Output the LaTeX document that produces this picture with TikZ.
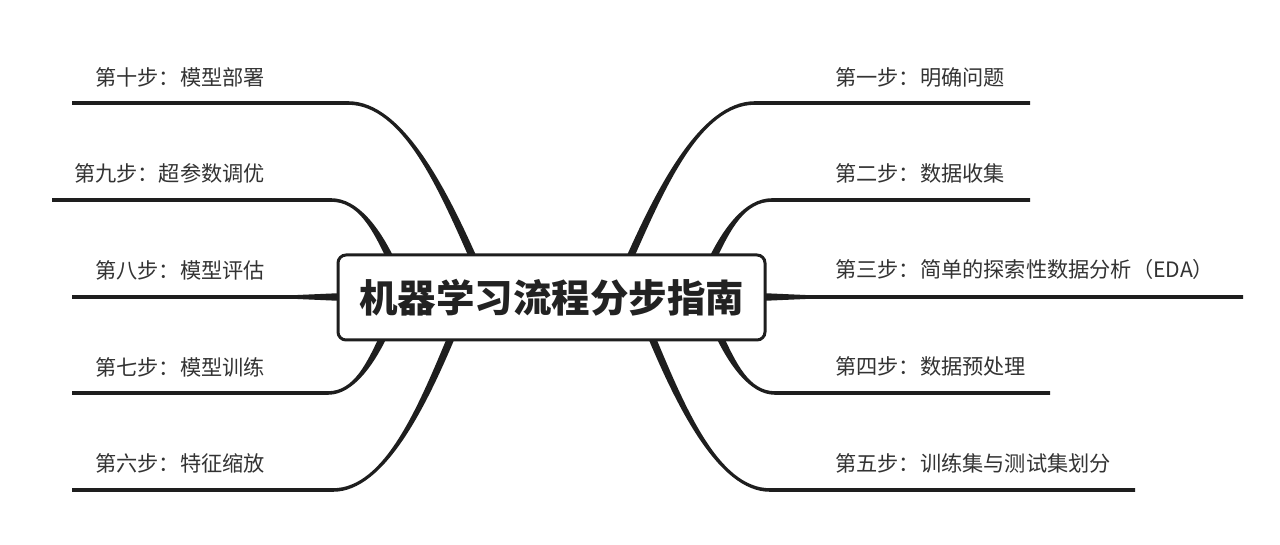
\documentclass[tikz,border=0pt]{standalone}
\usepackage{fontspec}
\setmainfont{Noto Sans CJK SC}
\usetikzlibrary{calc}
\definecolor{linec}{HTML}{1E1E1E}
\definecolor{textc}{HTML}{333333}
\definecolor{titlec}{HTML}{222222}
\tikzset{
  branch/.style={fill=linec},
  lblR/.style={anchor=west, inner sep=0pt, text=textc, font=\fontsize{21.2}{25}\selectfont},
  lblL/.style={anchor=east, inner sep=0pt, text=textc, font=\fontsize{21.2}{25}\selectfont},
  centerbox/.style={draw=linec, line width=3pt, fill=white, rounded corners=8pt,
    minimum width=427pt, minimum height=85pt, inner sep=0pt, text=titlec,
    font=\fontsize{38.5}{44}\selectfont\bfseries}
}
% #1 start, #2 ctrl1, #3 ctrl2, #4 bend, #5 end, #6 offset at start, #7 offset at bend
\newcommand\mmbranch[7]{%
  \fill[branch] ($(#1)+(#6)$) .. controls ($(#2)+(#6)$) and ($(#3)+(#7)$) .. ($(#4)+(#7)$)
    -- ($(#5)+(#7)$) -- ($(#5)-(#7)$) -- ($(#4)-(#7)$)
    .. controls ($(#3)-(#7)$) and ($(#2)-(#6)$) .. ($(#1)-(#6)$) -- cycle;}
\begin{document}
\begin{tikzpicture}[x=1pt,y=-1pt]
\useasboundingbox (0,0) rectangle (1280,545);
\fill[white] (0,0) rectangle (1280,545);
% coordinates
\coordinate (s1) at (628,262);  \coordinate (b1) at (755,103);  \coordinate (e1) at (1030,103);
\coordinate (s2) at (711,262);  \coordinate (b2) at (772,200);  \coordinate (e2) at (1030,200);
\coordinate (s3) at (760,297);  \coordinate (e3) at (1243,297);
\coordinate (s4) at (718,333);  \coordinate (b4) at (775,393);  \coordinate (e4) at (1050,393);
\coordinate (s5) at (650,333);  \coordinate (b5) at (770,490);  \coordinate (e5) at (1135,490);
\coordinate (s10) at (475,262); \coordinate (b10) at (348,103); \coordinate (e10) at (72,103);
\coordinate (s9) at (392,262);  \coordinate (b9) at (331,200);  \coordinate (e9) at (52,200);
\coordinate (s8) at (343,297);  \coordinate (e8) at (72,297);
\coordinate (s7) at (385,333);  \coordinate (b7) at (328,393);  \coordinate (e7) at (72,393);
\coordinate (s6) at (453,333);  \coordinate (b6) at (333,490);  \coordinate (e6) at (72,490);
% branches right
\mmbranch{s1}{660,190}{700,103}{b1}{e1}{-4,0}{0,-1.8}
\mmbranch{s2}{727,228}{745,200}{b2}{e2}{-4,0}{0,-1.8}
\mmbranch{s4}{732,363}{749,393}{b4}{e4}{-4,0}{0,1.8}
\mmbranch{s5}{680,405}{718,490}{b5}{e5}{-4,0}{0,1.8}
% branches left
\mmbranch{s10}{443,190}{403,103}{b10}{e10}{4,0}{0,-1.8}
\mmbranch{s9}{376,228}{358,200}{b9}{e9}{4,0}{0,-1.8}
\mmbranch{s7}{371,363}{354,393}{b7}{e7}{4,0}{0,1.8}
\mmbranch{s6}{423,405}{385,490}{b6}{e6}{4,0}{0,1.8}
% straight wedges
\fill[branch] ($(s3)+(0,-4)$) .. controls ($(s3)+(25,-2.2)$) .. ($(s3)+(50,-1.8)$)
  -- ($(e3)+(0,-1.8)$) -- ($(e3)+(0,1.8)$) -- ($(s3)+(50,1.8)$)
  .. controls ($(s3)+(25,2.2)$) .. ($(s3)+(0,4)$) -- cycle;
\fill[branch] ($(s8)+(0,-4)$) .. controls ($(s8)+(-25,-2.2)$) .. ($(s8)+(-50,-1.8)$)
  -- ($(e8)+(0,-1.8)$) -- ($(e8)+(0,1.8)$) -- ($(s8)+(-50,1.8)$)
  .. controls ($(s8)+(-25,2.2)$) .. ($(s8)+(0,4)$) -- cycle;
% center
\node[centerbox] (c) at (551.5,297.5) {机器学习流程分步指南};
% labels
\node[lblR] (t1) at (835,77) {第一步：明确问题};
\node[lblR] (t2) at (835,173) {第二步：数据收集};
\node[lblR] (t3) at (835,269) {第三步：简单的探索性数据分析（EDA）};
\node[lblR] (t4) at (835,366) {第四步：数据预处理};
\node[lblR] (t5) at (835,463) {第五步：训练集与测试集划分};
\node[lblL] (t10) at (265,77) {第十步：模型部署};
\node[lblL] (t9) at (265,173) {第九步：超参数调优};
\node[lblL] (t8) at (265,270) {第八步：模型评估};
\node[lblL] (t7) at (265,367) {第七步：模型训练};
\node[lblL] (t6) at (265,463) {第六步：特征缩放};
\end{tikzpicture}
\end{document}
